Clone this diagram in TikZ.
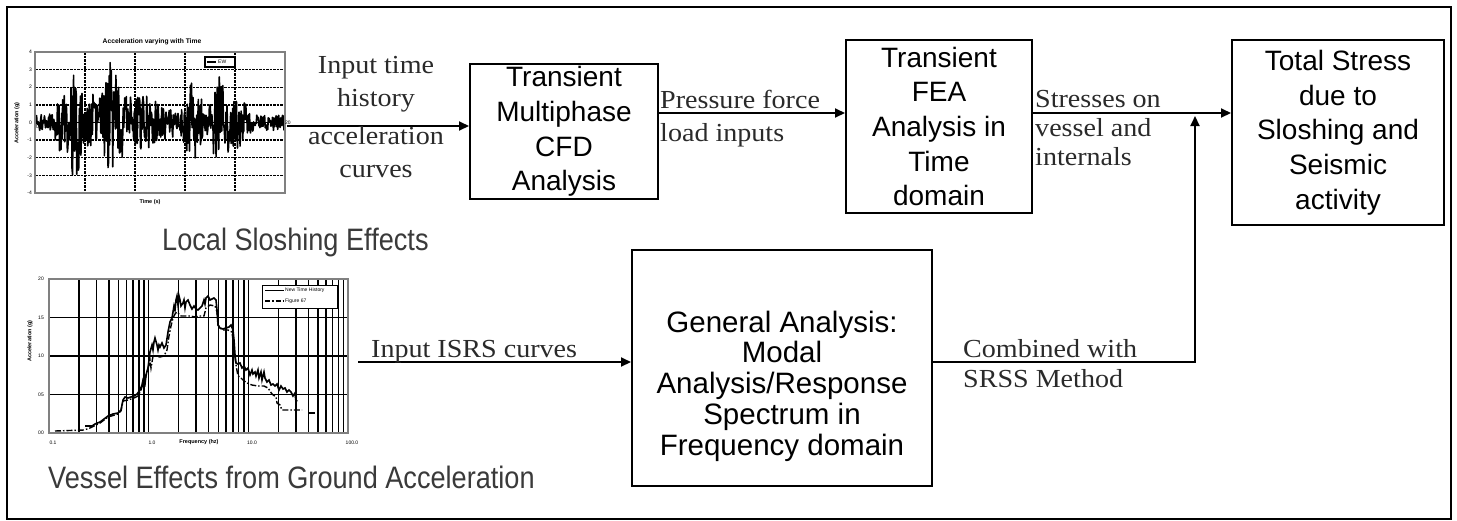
\documentclass[tikz,border=0pt]{standalone}
\usepackage{fontspec}
\setmainfont{Liberation Sans}
\newfontfamily\arialf{Liberation Sans}
\newfontfamily\serf[FakeStretch=1.08]{Liberation Serif}
\newfontfamily\narf[FakeStretch=0.875]{Liberation Sans}
\usetikzlibrary{arrows.meta}
\definecolor{lblgray}{HTML}{3A3A3A}
\definecolor{sergray}{HTML}{2A2A2A}
\definecolor{framegray}{HTML}{808080}
\tikzset{
  box/.style={draw=black, line width=2pt, fill=white, inner sep=0pt, align=center,
              font=\fontsize{28}{34.7}\selectfont\arialf},
  conn/.style={line width=2pt, -{Triangle[length=10pt,width=9pt]}},
  lbl/.style={inner sep=0pt, text=sergray, font=\fontsize{26}{30}\selectfont\serf},
  capt/.style={inner sep=0pt, text=lblgray, font=\fontsize{31}{36}\selectfont\narf},
  tick/.style={inner sep=0pt, font=\fontsize{5}{6}\selectfont\arialf},
  tickb/.style={inner sep=0pt, font=\fontsize{5.5}{6}\selectfont\bfseries\arialf},
  grid1/.style={line width=1.3pt, dash pattern=on 2.5pt off 1pt},
  grid2/.style={line width=1.5pt},
  frame/.style={draw=framegray, line width=2pt},
}
\begin{document}
\begin{tikzpicture}[x=1pt,y=-1pt,
  declare function={
    gau(\t,\c,\w)=exp(-min(((\t-\c)/\w)*((\t-\c)/\w),20));
    env(\t)=0.45+1.2*gau(\t,2,0.5)+2.8*gau(\t,3.2,0.6)+1.0*gau(\t,4.5,0.6)
           +2.8*gau(\t,6.1,0.8)+1.1*gau(\t,8.5,2.5)+2.0*gau(\t,12.7,0.7)
           +2.3*gau(\t,14.8,0.7)+1.0*gau(\t,16.3,0.8);
  }]
\useasboundingbox (0,0) rectangle (1457,520);
\draw[line width=2pt] (7,7) rectangle (1451,519);

% ---------------- chart 1: time history ----------------
\node[inner sep=0pt, font=\fontsize{6.7}{8}\selectfont\bfseries\arialf] (c1title) at (152,42) {Acceleration varying with Time};
\foreach \a in {3,2,1,-1,-2,-3} \draw[grid1] (35,{122.5-17.625*\a}) -- (285,{122.5-17.625*\a});
\foreach \i in {1,...,4} \draw[grid1] ({35+50*\i},52) -- ({35+50*\i},193);
\draw[line width=1pt] (35,122.5) -- (285,122.5);
\pgfmathsetseed{4711}
\begin{scope}
\clip (35,52) rectangle (285,193);
\draw[line width=1.6pt, line join=round] plot[domain=0:20, samples=480, variable=\t]
  ({35+12.5*\t}, {122.5-17.625*env(\t)*rand});
\end{scope}
\draw[frame] (35,52) rectangle (285,193);
\foreach \a in {4,3,2,1,0,-1,-2,-3,-4}
  \node[tick, anchor=east] (c1y\a) at (32,{122.5-17.625*\a}) {\a};
\foreach \i/\lab in {0/0,1/4,2/8,3/12,4/16}
  \node[tick, anchor=north west] (c1x\i) at ({36+50*\i},125) {\lab};
\node[tick, anchor=west] (c1x5) at (285,123) {20};
\node[tickb, rotate=90] (c1ylab) at (17,123) {Acceleration (g)};
\node[tickb] (c1xlab) at (150,202) {Time (s)};
\draw[line width=1.2pt, fill=white] (205,57) rectangle (235,67);
\draw[line width=2pt] (207,62) -- (216,62);
\node[tick, anchor=west] (c1leg) at (218,62) {EW};

% ---------------- chart 2: spectrum ----------------
\foreach \d in {0,1,2} \foreach \m in {1,...,9} {
  \pgfmathsetmacro{\xx}{49+99.67*(\d+log10(\m))}
  \draw[grid2] (\xx,279) -- (\xx,433);
}
\foreach \a in {0.5,1.0,1.5} \draw[grid2] (49,{433-77*\a}) -- (348,{433-77*\a});
\draw[line width=1.6pt] plot coordinates {(85,426) (92,426) (95,424) (100,422) (104,419) (108,416) (113,414) (118,413) (121,410) (123,400) (125,397) (128,398) (131,397) (134,396) (137,394) (140,390) (142,385) (143,380) (145,384) (146,375) (148,368) (149,360) (150,352) (152,345) (153,350) (154,342) (155,338) (157,345) (158,350) (159,345) (160,347) (162,343) (164,348) (166,345) (168,332) (170,322) (172,318) (173,312) (174,306) (175,310) (176,300) (177,296) (178,305) (179,296) (180,300) (181,306) (183,303) (184,300) (185,308) (186,302) (188,300) (190,305) (192,309) (194,306) (196,309) (198,310) (200,308) (202,306) (204,300) (205,304) (206,298) (208,296) (210,300) (212,299) (214,298) (216,300) (217,310) (218,325) (220,328) (223,329) (226,328) (229,327) (231,325) (233,330) (234,340) (235,355) (236,363) (238,364) (240,363) (242,368) (244,366) (246,370) (248,368) (250,375) (252,370) (253,374) (255,372) (256,376) (258,370) (259,378) (261,372) (262,380) (264,372) (265,378) (267,382) (269,380) (271,385) (273,384) (275,386) (277,384) (279,390) (281,386) (283,389) (285,388) (287,392) (289,390) (291,392) (293,396) (295,393) (296,402) (297,400)};
\draw[line width=1.4pt, dash pattern=on 6pt off 2pt on 1.5pt off 2pt] plot coordinates {(55,431) (84,430) (90,428) (100,423) (108,417) (118,414) (121,411) (123,401) (128,400) (134,398) (138,396) (141,390) (143,384) (145,380) (147,372) (149,365) (150,360) (151,368) (152,362) (153,356) (156,356) (160,357) (164,356) (167,350) (169,336) (171,326) (173,318) (175,314) (177,312) (179,314) (181,316) (185,316) (190,316) (195,317) (200,316) (204,316) (206,308) (210,305) (215,306) (217,312) (218,325) (222,330) (228,330) (232,332) (234,348) (236,365) (238,376) (240,377) (243,380) (247,383) (252,385) (258,386) (264,386) (268,388) (272,394) (276,397) (277,403) (280,405) (282,410) (290,410) (302,410)};
\draw[line width=1.4pt] (308,413) -- (315,413);
\draw[frame] (49,279) rectangle (348,433);
\foreach \a/\lab in {0/00,0.5/05,1.0/10,1.5/15,2.0/20}
  \node[tick, anchor=east] (c2y\lab) at (44,{433-77*\a}) {\lab};
\node[tick] (c2x1) at (53,443) {0.1};
\node[tick] (c2x2) at (152,443) {1.0};
\node[tick] (c2x3) at (252,443) {10.0};
\node[tick] (c2x4) at (352,443) {100.0};
\node[tickb] (c2xlab) at (199,442) {Frequency (hz)};
\node[tickb, rotate=90] (c2ylab) at (30,341) {Acceleration (g)};
\draw[line width=1pt, fill=white] (262,285) rectangle (337,308);
\draw[line width=1.5pt] (265,290.5) -- (284,290.5);
\draw[line width=1.4pt, dash pattern=on 5pt off 2pt on 1.5pt off 2pt] (265,301) -- (284,301);
\node[tick, anchor=west] (c2leg1) at (285,290.5) {New Time History};
\node[tick, anchor=west] (c2leg2) at (285,301) {Figure 67};

% ---------------- captions ----------------
\node[capt, anchor=base west] (capLocal) at (162,250) {Local Sloshing Effects};
\node[capt, anchor=base west] (capVessel) at (48,488) {Vessel Effects from Ground Acceleration};

% ---------------- boxes ----------------
\node[box, minimum width=188pt, minimum height=135pt] (cfd) at (564,131.5)
  {Transient\\Multiphase\\CFD\\Analysis};
\node[box, minimum width=186pt, minimum height=173pt] (fea) at (939,126.5)
  {Transient\\FEA\\Analysis in\\Time\\domain};
\node[box, minimum width=212pt, minimum height=185pt] (total) at (1338,132.5)
  {Total Stress\\due to\\Sloshing and\\Seismic\\activity};
\node[box, minimum width=300pt, minimum height=236pt] (gen) at (782,368) {};
\node[inner sep=0pt, align=center, font=\fontsize{29.5}{30.8}\selectfont\arialf] (gentxt) at (782,386)
  {General Analysis:\\Modal\\Analysis/Response\\Spectrum in\\Frequency domain};

% ---------------- connectors ----------------
\coordinate (c1out) at (287,126);
\coordinate (row) at (700,113);
\coordinate (isrs) at (358,362);
\coordinate (corner) at (1195,362);
\coordinate (join) at (1195,116);
\draw[conn] (c1out) -- (c1out -| cfd.west);
\draw[conn] (row -| cfd.east) -- (row -| fea.west);
\draw[conn] (row -| fea.east) -- (row -| total.west);
\draw[conn] (isrs) -- (isrs -| gen.west);
\draw[conn] (corner -| gen.east) -- (corner) -- (join);

% ---------------- connector labels ----------------
\node[lbl, anchor=base] (l1a) at (376,73) {Input time};
\node[lbl, anchor=base] (l1b) at (376,106) {history};
\node[lbl, anchor=base] (l1c) at (376,144) {acceleration};
\node[lbl, anchor=base] (l1d) at (376,177) {curves};
\node[lbl, anchor=base west] (l2a) at (660,108) {Pressure force};
\node[lbl, anchor=base west] (l2b) at (660,141) {load inputs};
\node[lbl, anchor=base west] (l3a) at (1035,107) {Stresses on};
\node[lbl, anchor=base west] (l3b) at (1035,136) {vessel and};
\node[lbl, anchor=base west] (l3c) at (1035,165) {internals};
\node[lbl, anchor=base west] (l4) at (371,357) {Input ISRS curves};
\node[lbl, anchor=base west] (l5a) at (963,357) {Combined with};
\node[lbl, anchor=base west] (l5b) at (963,387) {SRSS Method};
\end{tikzpicture}
\end{document}
